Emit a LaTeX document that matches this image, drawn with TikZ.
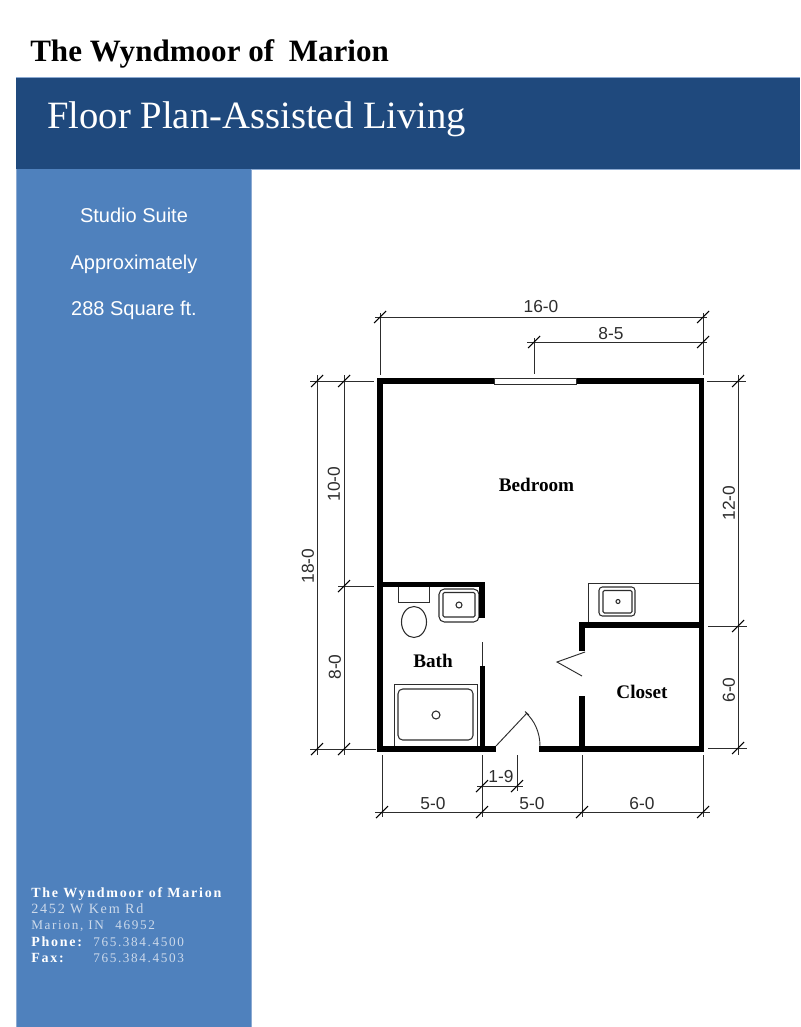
\documentclass[tikz,border=0pt]{standalone}
\usepackage{fontspec}
\setmainfont{Liberation Serif}
\newfontfamily\dimfont{Liberation Sans}
\newfontfamily\footfont[LetterSpace=12.5]{Liberation Serif}
\definecolor{headblue}{RGB}{31,73,125}
\definecolor{sideblue}{RGB}{79,129,189}
\definecolor{paneledge}{RGB}{140,170,210}
\definecolor{footpale}{RGB}{205,218,235}
\definecolor{inkgrey}{RGB}{45,45,45}
\tikzset{
  x=0.75pt,y=-0.75pt,
  wall/.style={fill=black,draw=none},
  thinline/.style={draw=inkgrey,line width=0.7pt},
  fixture/.style={draw=inkgrey,line width=0.8pt,fill=white},
  dimline/.style={draw=inkgrey,line width=0.6pt},
  tick/.style={draw=black,line width=0.8pt},
  dimtext/.style={font=\dimfont\fontsize{13}{13}\selectfont,text=inkgrey,inner sep=0pt},
  dimtextv/.style={dimtext,rotate=90},
  roomtext/.style={font=\bfseries\fontsize{14.4}{14.4}\selectfont,inner sep=0pt},
  sidetext/.style={font=\dimfont\fontsize{15}{15}\selectfont,text=white,inner sep=0pt,anchor=base},
  footb/.style={font=\footfont\bfseries\fontsize{10.5}{10.5}\selectfont,text=white,inner sep=0pt,anchor=base west},
  footr/.style={font=\footfont\fontsize{10.6}{10.6}\selectfont,text=footpale,inner sep=0pt,anchor=base west},
  footn/.style={footr,font=\footfont\fontsize{9.9}{9.9}\selectfont},
}
\newcommand{\slashat}[2]{\draw[tick] (#1-6,#2+6) -- (#1+6,#2-6);}
\begin{document}
\begin{tikzpicture}
\useasboundingbox (0,0) rectangle (800,1027);
\fill[white] (0,0) rectangle (800,1027);
% panels
\fill[sideblue] (16,169) rectangle (251.5,1027);
\draw[paneledge,line width=0.5pt] (16,169) -- (16,1027) (251.5,169) -- (251.5,1027);
\fill[headblue] (16,78) rectangle (800,169);
\draw[paneledge,line width=0.5pt] (16,77.7) -- (800,77.7) (251.5,169.2) -- (800,169.2);
% headings
\node[inner sep=0pt,anchor=base west,font=\bfseries\fontsize{23.3}{23.3}\selectfont] (brand) at (30,61.5) {The Wyndmoor of\hspace{0.22em} Marion};
\node[inner sep=0pt,anchor=base west,text=white,font=\fontsize{29}{29}\selectfont] (title) at (47,128.5) {Floor Plan-Assisted Living};
\node[sidetext] (s1) at (134,222) {Studio Suite};
\node[sidetext] (s2) at (134,269) {Approximately};
\node[sidetext] (s3) at (134,315) {288 Square ft.};
% footer
\node[footb] (f1) at (31,897.5) {The Wyndmoor of Marion};
\node[footr] (f2) at (31,913.5) {2452 W Kem Rd};
\node[footn] (f3) at (31,929.5) {Marion, IN\hspace{0.5em} 46952};
\node[footb] (f4) at (31,946) {Phone:};
\node[footn] (f5) at (93,946) {765.384.4500};
\node[footb] (f6) at (31,962) {Fax:};
\node[footn] (f7) at (93,962) {765.384.4503};
% fixtures
\draw[thinline] (588,622) -- (588,583) -- (699,583);
\draw[fixture,rounded corners=2.5pt] (599,587) rectangle (635,616);
\draw[fixture,rounded corners=1pt] (603,590.5) rectangle (632,613);
\draw[fixture] (618,601.5) circle[radius=2];
\draw[thinline] (398,587) -- (398,602) -- (429,602) -- (429,587);
\draw[fixture] (414,622) ellipse[x radius=12.5,y radius=15.5];
\draw[fixture,rounded corners=4pt] (439,589) rectangle (479,622);
\draw[fixture,rounded corners=1pt] (443,592.5) rectangle (475,617);
\draw[fixture] (459,605) circle[radius=3];
\draw[thinline] (394,746) -- (394,684) -- (477,684) -- (477,746);
\draw[fixture,rounded corners=3.5pt] (398,689) rectangle (473,740);
\draw[fixture] (436,715) circle[radius=4];
% walls
\fill[wall] (377,377.5) rectangle (704,384);
\fill[wall] (377,377.5) rectangle (382.5,751.5);
\fill[wall] (698.5,377.5) rectangle (704,751.5);
\fill[wall] (377,746) rectangle (496,751.5);
\fill[wall] (539,746) rectangle (704,751.5);
\fill[wall] (382,582) rectangle (485,587);
\fill[wall] (479,582) rectangle (485,618);
\fill[wall] (479.5,666) rectangle (485,746);
\fill[wall] (579,622) rectangle (699,628);
\fill[wall] (579,622) rectangle (585,651);
\fill[wall] (579,696) rectangle (585,746);
% window
\draw[fill=white,draw=inkgrey,line width=0.6pt] (494,378.7) rectangle (576,384.6);
% interior door stub and door leaves
\draw[thinline] (482,642) -- (482,666);
\draw[thinline] (496,746) -- (527,713);
\draw[thinline] (525,711.5) -- (529,715);
\draw[thinline] (526,713) .. controls (534,720) and (540,732) .. (540,746);
\draw[thinline] (585,652) -- (557,662) -- (582,676);
% dimension lines
\draw[dimline] (375,317) -- (707,317);
\draw[dimline] (527,342) -- (707,342);
\draw[dimline] (380,313) -- (380,375);
\draw[dimline] (534,338) -- (534,374);
\draw[dimline] (703,313) -- (703,375);
\draw[dimline] (317,375) -- (317,755);
\draw[dimline] (344,375) -- (344,755);
\draw[dimline] (310,381) -- (374,381);
\draw[dimline] (338,586) -- (374,586);
\draw[dimline] (310,749) -- (376,749);
\draw[dimline] (738,375) -- (738,755);
\draw[dimline] (707,381) -- (746,381);
\draw[dimline] (708,626) -- (747,626);
\draw[dimline] (708,748) -- (747,748);
\draw[dimline] (375,812) -- (710,812);
\draw[dimline] (477,786) -- (523,786);
\draw[dimline] (382,755) -- (382,817);
\draw[dimline] (482,755) -- (482,817);
\draw[dimline] (517,755) -- (517,791);
\draw[dimline] (582,755) -- (582,817);
\draw[dimline] (703,755) -- (703,817);
% ticks
\slashat{380}{317}\slashat{703}{317}\slashat{534}{342}\slashat{703}{342}
\slashat{317}{381}\slashat{344}{381}\slashat{344}{586}\slashat{317}{749}\slashat{344}{749}
\slashat{738}{381}\slashat{738}{626}\slashat{738}{748}
\slashat{382}{812}\slashat{482}{812}\slashat{582}{812}\slashat{703}{812}
\slashat{482}{786}\slashat{517}{786}
% dimension labels
\node[dimtext] (d1) at (541,307) {16-0};
\node[dimtext] (d2) at (611,334) {8-5};
\node[dimtextv] (d3) at (334,484) {10-0};
\node[dimtextv] (d4) at (308,566) {18-0};
\node[dimtextv] (d5) at (335,667) {8-0};
\node[dimtextv] (d6) at (729,503) {12-0};
\node[dimtextv] (d7) at (729,690) {6-0};
\node[dimtext] (d8) at (433,804) {5-0};
\node[dimtext] (d9) at (532,804) {5-0};
\node[dimtext] (d10) at (642,804) {6-0};
\node[dimtext] (d11) at (501,777) {1-9};
% rooms
\node[roomtext] (r1) at (536.5,485) {Bedroom};
\node[roomtext] (r2) at (433,661) {Bath};
\node[roomtext] (r3) at (642,692) {Closet};
\end{tikzpicture}
\end{document}
